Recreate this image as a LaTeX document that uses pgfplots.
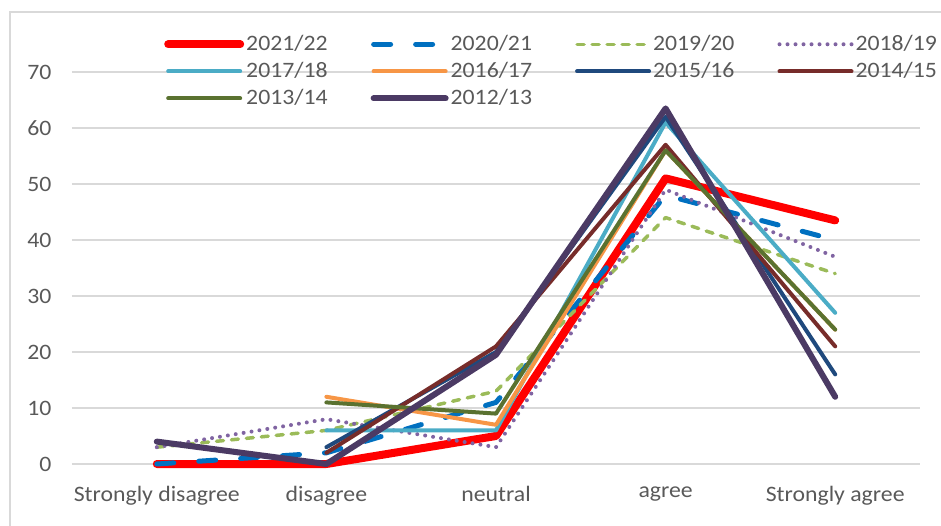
\documentclass[border=0pt]{standalone}
\usepackage{pgfplots}
\pgfplotsset{compat=1.18}
\usepackage{fontspec}
\setmainfont{Carlito}[FakeStretch=1.08]
\definecolor{gridgray}{HTML}{D9D9D9}
\definecolor{labgray}{HTML}{595959}
\definecolor{cA}{HTML}{FF0000}
\definecolor{cB}{HTML}{0070C0}
\definecolor{cC}{HTML}{9BBB59}
\definecolor{cD}{HTML}{8064A2}
\definecolor{cE}{HTML}{4BACC6}
\definecolor{cF}{HTML}{F79646}
\definecolor{cG}{HTML}{1F497D}
\definecolor{cH}{HTML}{772C2A}
\definecolor{cI}{HTML}{5A7230}
\definecolor{cJ}{HTML}{4B3A64}
\begin{document}
\fontsize{22bp}{26bp}\selectfont
\begin{tikzpicture}
\path[use as bounding box] (-72bp,-62bp) rectangle (869bp,464bp);
\draw[gridgray, line width=1.2bp] (-62bp,-70bp) -- (-62bp,452bp) -- (880bp,452bp);
\begin{axis}[
  scale only axis, width=848bp, height=392bp,
  at={(0,0)}, anchor=south west,
  xmin=-0.5, xmax=4.5, ymin=0, ymax=70,
  xtick={0,1,2,3,4},
  xticklabels={Strongly disagree, disagree, neutral, agree, Strongly agree},
  ytick={0,10,20,30,40,50,60,70},
  axis line style={draw=none},
  major tick length=0pt,
  ymajorgrids, grid style={gridgray, line width=1.3bp},
  tick label style={font=\fontsize{22bp}{26bp}\selectfont, text=labgray},
  /pgf/number format/assume math mode=true,
  yticklabel style={xshift=-13bp},
  xticklabel style={yshift=-15bp},
  clip=false,
  every axis plot/.append style={line cap=round, line join=round},
  legend image code/.code={\draw[#1] (0bp,0bp) -- (72bp,0bp);},
  legend columns=4,
  legend cell align=left,
  legend style={draw=none, fill=none, inner sep=0pt, at={(rel axis cs:0.1085,1.1)}, anchor=north west,
    font=\fontsize{22bp}{26bp}\selectfont, text=labgray,
    nodes={inner sep=2bp}, row sep=4.5bp,
    /tikz/every even column/.append style={column sep=41bp}},
]
\addplot[cA, line width=8bp] coordinates {(0,0) (1,0) (2,5) (3,51) (4,43.5)};
\addlegendentry{2021/22}
\addplot[cB, line width=5bp, dash pattern=on 17bp off 25bp] coordinates {(0,0) (1,2) (2,11) (3,48) (4,40)};
\addlegendentry{2020/21}
\addplot[cC, line width=3.5bp, dash pattern=on 7bp off 8bp] coordinates {(0,3) (1,6) (2,13) (3,44) (4,34)};
\addlegendentry{2019/20}
\addplot[cD, line width=4bp, dash pattern=on 0bp off 8bp] coordinates {(0,3) (1,8) (2,3) (3,49) (4,37)};
\addlegendentry{2018/19}
\addplot[cE, line width=4bp] coordinates {(1,6) (2,6) (3,61) (4,27)};
\addlegendentry{2017/18}
\addplot[cF, line width=4bp] coordinates {(1,12) (2,7) (3,56) (4,24)};
\addlegendentry{2016/17}
\addplot[cG, line width=4bp] coordinates {(1,3) (2,20) (3,62) (4,16)};
\addlegendentry{2015/16}
\addplot[cH, line width=4bp] coordinates {(1,2) (2,21) (3,57) (4,21)};
\addlegendentry{2014/15}
\addplot[cI, line width=4bp] coordinates {(1,11) (2,9) (3,56) (4,24)};
\addlegendentry{2013/14}
\addplot[cJ, line width=6bp] coordinates {(0,4) (1,0) (2,19.5) (3,63.5) (4,12)};
\addlegendentry{2012/13}
\end{axis}
\end{tikzpicture}
\end{document}
